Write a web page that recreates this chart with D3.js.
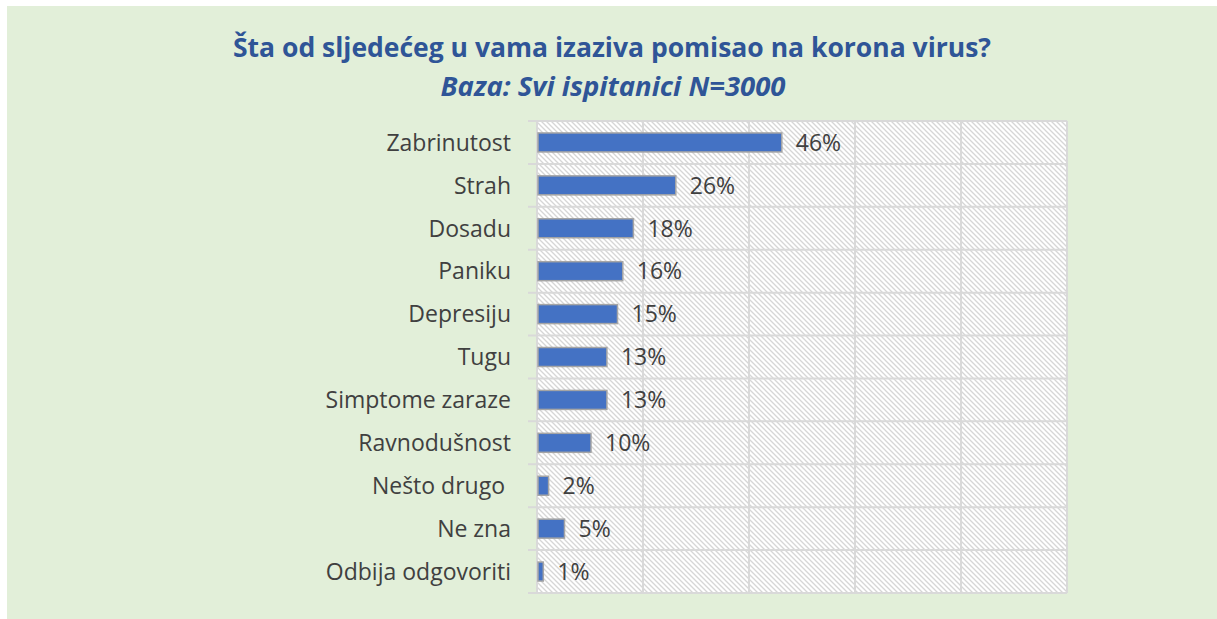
<!DOCTYPE html>
<html>
<head>
<meta charset="utf-8">
<script src="https://cdn.jsdelivr.net/npm/d3@7/dist/d3.min.js"></script>
<style>
  body { margin: 0; background: #fff; }
  svg { display: block; }
  .cat { white-space: pre; }
</style>
</head>
<body>
<svg id="chart" width="1217" height="619"></svg>
<script>
const categories = ["Zabrinutost", "Strah", "Dosadu", "Paniku", "Depresiju", "Tugu",
  "Simptome zaraze", "Ravnodušnost", "Nešto drugo ", "Ne zna", "Odbija odgovoriti"];
const values = [46, 26, 18, 16, 15, 13, 13, 10, 2, 5, 1];
const xTicks = [0, 20, 40, 60, 80, 100];
const title = "Šta od sljedećeg u vama izaziva pomisao na korona virus?";
const subtitle = "Baza: Svi ispitanici N=3000";

const svg = d3.select("#chart");
const font = "'Open Sans', sans-serif";

// green panel
svg.append("rect")
  .attr("x", 7).attr("y", 6)
  .attr("width", 1210).attr("height", 613)
  .attr("fill", "#e2efd9");

// hatch pattern
const defs = svg.append("defs");
const pat = defs.append("pattern")
  .attr("id", "hatch")
  .attr("patternUnits", "userSpaceOnUse")
  .attr("width", 5).attr("height", 5);
pat.append("rect").attr("width", 5).attr("height", 5).attr("fill", "#fff");
pat.append("path")
  .attr("d", "M-1,-1 L6,6 M-1,4 L1,6 M4,-1 L6,1")
  .attr("stroke", "#d6d6d6")
  .attr("stroke-width", 1.3);

const pLeft = 537, pRight = 1067, pTop = 121, pBottom = 593;

let x = d3.scaleLinear().domain([0, 100]).range([pLeft, pRight]);
let y = d3.scaleBand().domain(categories).range([pTop, pBottom]).paddingInner(0).paddingOuter(0);

svg.append("rect")
  .attr("x", pLeft).attr("y", pTop)
  .attr("width", pRight - pLeft).attr("height", pBottom - pTop)
  .attr("fill", "url(#hatch)");

// vertical gridlines
svg.append("g").selectAll("line")
  .data(xTicks)
  .enter().append("line")
  .attr("x1", d => x(d)).attr("x2", d => x(d))
  .attr("y1", pTop).attr("y2", pBottom)
  .attr("stroke", "#d9d9d9")
  .attr("stroke-width", 2);

// horizontal gridlines (category boundaries) + ticks
const bounds = categories.map(c => y(c)).concat([pBottom]);
svg.append("g").selectAll("line")
  .data(bounds)
  .enter().append("line")
  .attr("x1", pLeft - 9).attr("x2", pRight)
  .attr("y1", d => d).attr("y2", d => d)
  .attr("stroke", "#d9d9d9")
  .attr("stroke-width", 2);

const barH = 19;

svg.append("g").selectAll("rect")
  .data(values)
  .enter().append("rect")
  .attr("x", x(0) + 1)
  .attr("y", (d, i) => y(categories[i]) + y.bandwidth() / 2 - barH / 2)
  .attr("width", d => x(d) - x(0))
  .attr("height", barH)
  .attr("fill", "#4472c4")
  .attr("stroke", "#a5a5a5")
  .attr("stroke-width", 1.5);

// value labels
svg.append("g").selectAll("text")
  .data(values)
  .enter().append("text")
  .attr("x", d => x(d) + 15)
  .attr("y", (d, i) => y(categories[i]) + y.bandwidth() / 2)
  .attr("dy", "0.36em")
  .attr("font-family", font)
  .attr("font-size", 23)
  .attr("fill", "#404040")
  .text(d => d + "%");

// category labels
svg.append("g").selectAll("text")
  .data(categories)
  .enter().append("text")
  .attr("class", "cat")
  .attr("x", 511)
  .attr("y", d => y(d) + y.bandwidth() / 2)
  .attr("dy", "0.36em")
  .attr("text-anchor", "end")
  .attr("font-family", font)
  .attr("font-size", 23)
  .attr("fill", "#404040")
  .text(d => d);

// titles
svg.append("text")
  .attr("x", 612).attr("y", 57)
  .attr("text-anchor", "middle")
  .attr("font-family", font)
  .attr("font-weight", "bold")
  .attr("font-size", 26.5)
  .attr("fill", "#2f5597")
  .text(title);

svg.append("text")
  .attr("x", 613).attr("y", 96)
  .attr("text-anchor", "middle")
  .attr("font-family", font)
  .attr("font-weight", "bold")
  .attr("font-style", "italic")
  .attr("font-size", 27.5)
  .attr("fill", "#2f5597")
  .text(subtitle);
</script>
</body>
</html>
